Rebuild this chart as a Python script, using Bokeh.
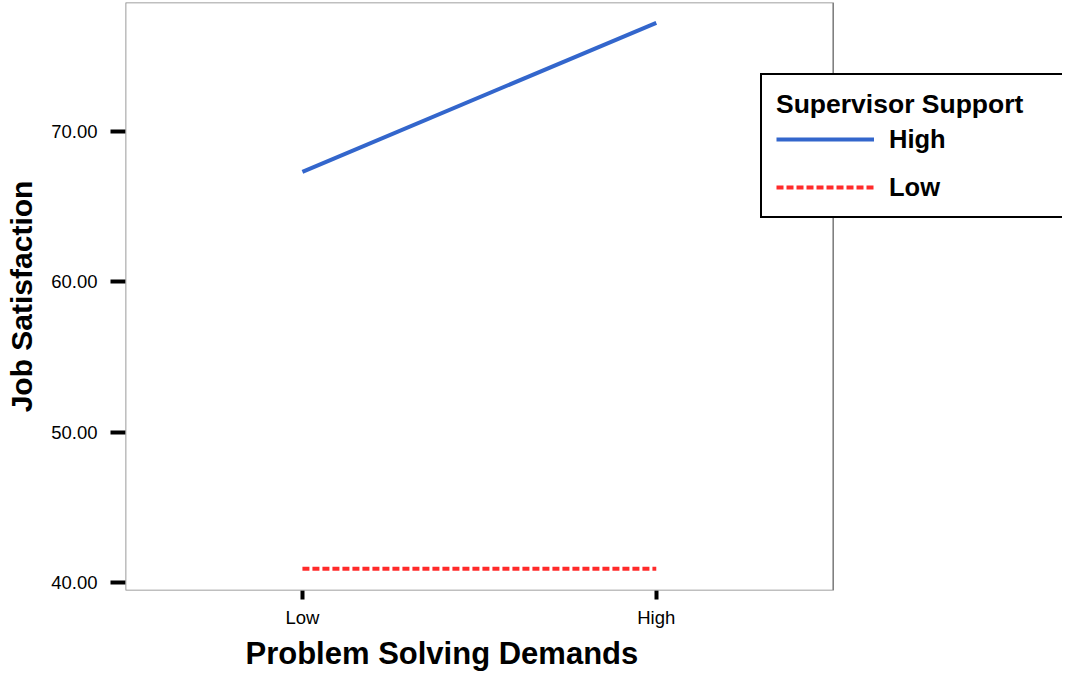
from bokeh.plotting import figure
from bokeh.models import (Range1d, FixedTicker, PrintfTickFormatter,
                          Legend, LegendItem, BoxAnnotation, Title)
from bokeh.embed import file_html
from bokeh.resources import INLINE

# ---- data ----
problem_levels = ["Low", "High"]
high_support = [67.30, 77.20]
low_support = [40.93, 40.93]
y_ticks = [40, 50, 60, 70]
legend_title = "Supervisor Support"
series_labels = ["High", "Low"]
x_title = "Problem Solving Demands"
y_title = "Job Satisfaction"

FONT = "Liberation Sans"

x_pos = list(range(len(problem_levels)))
Y0, Y1 = 39.49, 78.55

p = figure(width=1062, height=673,
           x_range=Range1d(-0.5, 2.148),
           y_range=Range1d(Y0, Y1),
           output_backend="svg", toolbar_location=None,
           min_border_left=125, min_border_right=0,
           min_border_top=2, min_border_bottom=83)

p.grid.visible = False
p.outline_line_color = None
p.background_fill_color = "white"
p.border_fill_color = "white"

# visible plot frame (category span -0.5 .. 1.5)
frame_box = BoxAnnotation(left=-0.5, right=len(problem_levels) - 0.5,
                          bottom=Y0, top=Y1, fill_alpha=0,
                          line_color="#808080", line_alpha=1.0, line_width=1.6)
p.add_layout(frame_box)

r_high = p.line(x_pos, high_support, line_color="#3366CC", line_width=4)
r_low = p.line(x_pos, low_support, line_color="#ff2b2b", line_width=4,
               line_dash="7 3")

for ax in (p.xaxis[0], p.yaxis[0]):
    ax.axis_line_color = None
    ax.major_tick_line_color = "black"
    ax.major_tick_line_width = 4
    ax.minor_tick_line_color = None
    ax.major_tick_in = 0
    ax.major_label_text_font = FONT
    ax.major_label_text_font_size = "18.5px"
    ax.major_label_text_color = "black"
    ax.axis_label_text_font = FONT
    ax.axis_label_text_font_size = "30px"
    ax.axis_label_text_font_style = "bold"
    ax.axis_label_text_color = "black"

p.yaxis.ticker = FixedTicker(ticks=y_ticks)
p.yaxis.formatter = PrintfTickFormatter(format="%.2f")
p.yaxis.major_tick_out = 15
p.yaxis.major_label_standoff = 13
p.yaxis.axis_label = y_title
p.yaxis.axis_label_standoff = 10

p.xaxis.ticker = FixedTicker(ticks=x_pos)
p.xaxis.major_label_overrides = {i: lab for i, lab in zip(x_pos, problem_levels)}
p.xaxis.major_tick_out = 9
p.xaxis.major_label_standoff = 7

xt = Title(text=x_title, align="left", offset=120, vertical_align="bottom",
           text_font=FONT, text_font_size="31px", text_font_style="bold",
           text_color="black", standoff=6)
p.add_layout(xt, "below")

legend = Legend(items=[LegendItem(label=series_labels[0], renderers=[r_high]),
                       LegendItem(label=series_labels[1], renderers=[r_low])],
                title=legend_title, location=(635, 372))
legend.title_text_font = FONT
legend.title_text_font_style = "bold"
legend.title_text_font_size = "26.5px"
legend.title_text_color = "black"
legend.title_standoff = 4
legend.label_text_font = FONT
legend.label_text_font_style = "bold"
legend.label_text_font_size = "25.5px"
legend.label_text_color = "black"
legend.glyph_width = 98
legend.glyph_height = 30
legend.label_standoff = 15
legend.label_width = 260
legend.spacing = 18
legend.padding = 14
legend.margin = 0
legend.border_line_color = "black"
legend.border_line_width = 2
legend.border_line_alpha = 1.0
legend.background_fill_color = "white"
legend.background_fill_alpha = 1.0
p.add_layout(legend)

open("out.html", "w").write(file_html(p, INLINE))
